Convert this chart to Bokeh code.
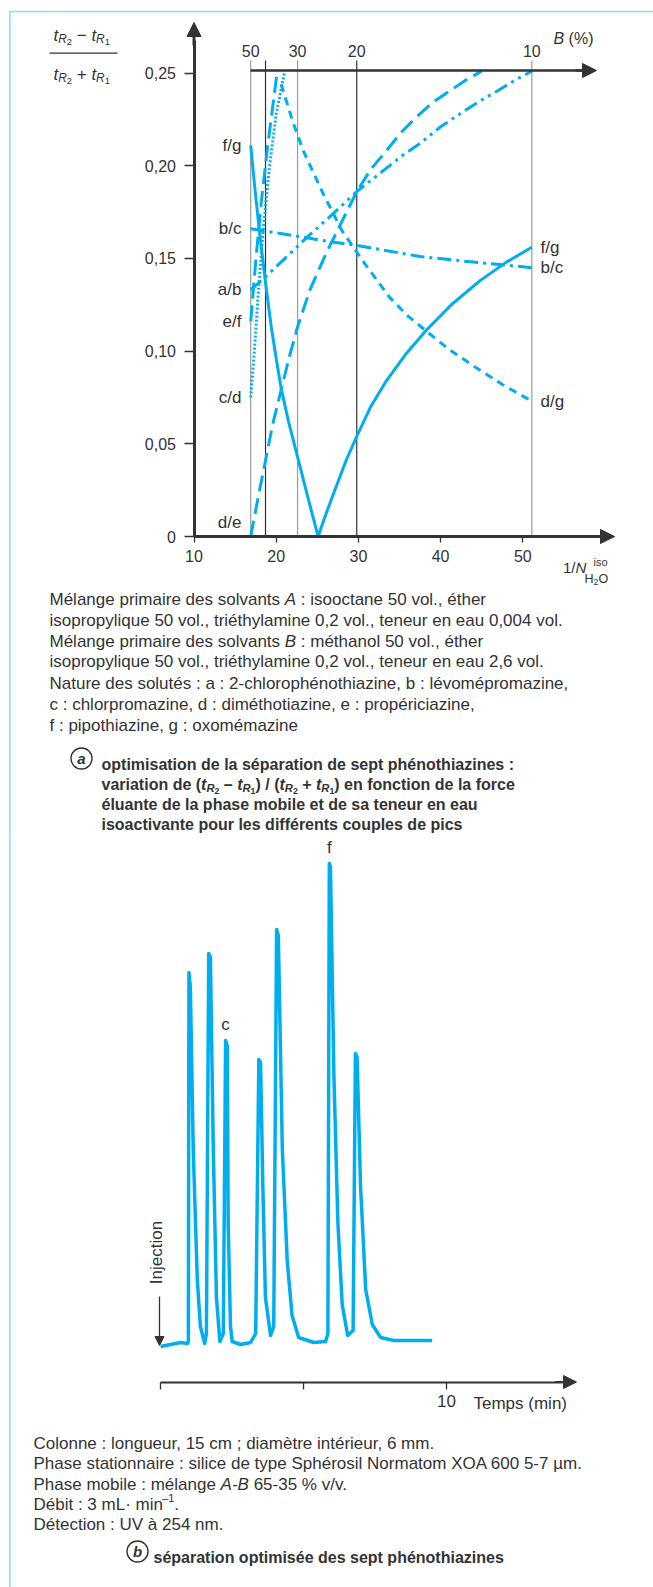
import math
from bokeh.plotting import figure
from bokeh.models import LinearAxis, FixedTicker, Range1d, Arrow, NormalHead
from bokeh.layouts import column
from bokeh.embed import file_html
from bokeh.resources import INLINE
from bokeh.core.properties import value

# ---------------------------------------------------------------- data (a)
# x = 1/N(H2O, iso), y = (tR2 - tR1)/(tR2 + tR1) for each pair of peaks
fg_x = [16.9, 17.4, 18.0, 18.7, 19.4, 20.0, 20.6, 21.5, 22.6, 23.8, 25.1, 26.0, 27.3, 28.5,
        29.8, 31.5, 33.4, 35.7, 38.2, 41.3, 44.8, 48.0, 51.1]
fg_y = [0.211, 0.188, 0.163, 0.137, 0.113, 0.096, 0.080, 0.062, 0.043, 0.022, 0.000, 0.0115,
        0.027, 0.041, 0.054, 0.070, 0.084, 0.098, 0.111, 0.125, 0.138, 0.148, 0.156]
bc_x = [16.9, 22.6, 26.5, 29.8, 37.5, 44.0, 51.1]
bc_y = [0.166, 0.162, 0.159, 0.157, 0.151, 0.148, 0.145]
ab_x = [16.9, 18.7, 21.3, 23.9, 26.9, 29.8, 31.5, 33.5, 35.5, 37.5, 40.0, 42.7, 44.8, 46.8,
        49.0, 51.1]
ab_y = [0.133, 0.140, 0.151, 0.162, 0.174, 0.186, 0.192, 0.199, 0.206, 0.212, 0.221, 0.229,
        0.235, 0.240, 0.246, 0.251]
de_x = [16.9, 17.8, 18.7, 19.6, 20.6, 21.6, 22.6, 24.1, 26.0, 28.0, 29.8, 31.5, 33.4, 35.2,
        37.0, 39.0, 41.0, 43.0, 45.0]
de_y = [0.000, 0.021, 0.041, 0.061, 0.079, 0.097, 0.113, 0.133, 0.152, 0.170, 0.186, 0.198,
        0.208, 0.218, 0.226, 0.234, 0.240, 0.246, 0.251]
ef_x = [16.9, 17.5, 18.2, 19.0, 20.1]
ef_y = [0.116, 0.148, 0.181, 0.212, 0.250]
cd_x = [16.9, 17.3, 17.8, 18.4, 19.2, 20.0, 21.0]
cd_y = [0.075, 0.097, 0.130, 0.165, 0.200, 0.228, 0.250]
dg_x = [20.6, 22.0, 23.3, 25.7, 28.0, 30.8, 33.8, 36.0, 38.2, 41.0, 44.0, 47.5, 51.1]
dg_y = [0.244, 0.224, 0.208, 0.185, 0.165, 0.147, 0.129, 0.119, 0.111, 0.101, 0.092, 0.082,
        0.073]

# B (%) scale drawn on top, at the matching 1/N positions
b_pct = [50, 35, 30, 20, 10]
b_pos = [16.9, 18.7, 22.6, 29.8, 51.1]
b_labelled = [50, 30, 20, 10]

y_ticks = [0, 0.05, 0.10, 0.15, 0.20, 0.25]
y_tick_labels = ["0", "0,05", "0,10", "0,15", "0,20", "0,25"]
x_ticks = [10, 20, 30, 40, 50]

# ---------------------------------------------------------------- data (b)
chrom_t = [0.02, 0.72, 0.96, 0.99, 1.01, 1.06, 1.16, 1.30, 1.41, 1.56, 1.62, 1.70, 1.76, 1.86,
           1.97, 2.09, 2.21, 2.29, 2.35, 2.38, 2.46, 2.52, 2.81, 3.16, 3.34, 3.45, 3.51, 3.59,
           3.68, 3.86, 3.97, 4.07, 4.13, 4.27, 4.44, 4.61, 4.84, 5.37, 5.78, 5.86, 5.91, 5.95,
           6.07, 6.21, 6.36, 6.55, 6.74, 6.82, 6.88, 7.00, 7.18, 7.41, 7.70, 8.16, 9.50]
chrom_s = [-5, -1, -2, 0, 369, 354, 192, 63, 15, -2, 8, 388, 384, 192,
           44, 0, 8, 301, 295, 118, 15, 0, -3, -1, 8, 282, 279, 155,
           44, 6, 15, 412, 406, 192, 81, 26, 4, -1, 0, 8, 478, 474,
           266, 118, 37, 6, 11, 288, 284, 155, 52, 17, 4, 1, 1]
peak_names = ["c", "f"]
peak_times = [2.29, 5.91]
time_ticks = [0, 5, 10]
time_tick_labels = ["", "", "10"]

# ---------------------------------------------------------------- styles
INK = "#333333"
BLUE = "#00AEEF"
FRAME = "#86E4EC"
GRAY = "#9a9a9a"
FONT = "Liberation Sans"
NBSP = "\u00a0"
W = 653
HA = 834
HB = 1587 - HA

W_REG, W_BOLD = {}, {}
def _set(tbl, chars, w):
    for c in chars:
        tbl[c] = w
_set(W_REG, "ijl", 0.222); _set(W_REG, "ftI !,./:;·", 0.278); _set(W_REG, "r()-", 0.333)
_set(W_REG, "cksvxyzJ", 0.5); _set(W_REG, "+−", 0.584); _set(W_REG, "FTZ", 0.611)
_set(W_REG, "ABEKPSVXY", 0.667); _set(W_REG, "CDHNRUw", 0.722); _set(W_REG, "GOQ", 0.778)
_set(W_REG, "Mm", 0.833); _set(W_REG, "%", 0.889); _set(W_REG, "W", 0.944)
_set(W_BOLD, "ijl !,./·", 0.278); _set(W_BOLD, "ft:;()-", 0.333); _set(W_BOLD, "r", 0.389)
_set(W_BOLD, "z", 0.5); _set(W_BOLD, "bdghnopqu", 0.611); _set(W_BOLD, "+−", 0.584)
_set(W_BOLD, "m", 0.889); _set(W_BOLD, "w", 0.778); _set(W_BOLD, "ABCDHKNRU", 0.722)


def tw(s, size, bold=False):
    tbl = W_BOLD if bold else W_REG
    return sum(tbl.get(c, 0.556) for c in s) * size


def keep_spaces(s):
    core = s.strip(" ")
    if not core:
        return NBSP * len(s)
    lead = len(s) - len(s.lstrip(" "))
    trail = len(s) - len(s.rstrip(" "))
    return NBSP * lead + core + NBSP * trail


def runs(fig, mx, my, x0, yc, pieces, size, color=INK):
    x = x0
    base = yc + 0.35 * size
    for text, style, rel, rise in pieces:
        sz = size * rel
        fig.text(x=[mx(x)], y=[my(base - rise)], text=[keep_spaces(text)], text_font=value(FONT),
                 text_font_size=f"{sz:.1f}px", text_font_style=style,
                 text_align="left", text_baseline="alphabetic", text_color=color)
        x += tw(text, sz, "bold" in style)


def label(fig, x, y, text, size, align="left", style="normal", angle=0.0, baseline="middle"):
    fig.text(x=[x], y=[y], text=[text], text_font=value(FONT), text_font_size=f"{size}px",
             text_font_style=style, text_align=align, text_baseline=baseline,
             text_color=INK, angle=angle)


def style_axis(axis, size, tick_out, standoff, lw):
    axis.axis_line_color = INK
    axis.axis_line_width = lw
    axis.major_tick_line_color = INK
    axis.major_tick_line_width = 1.3
    axis.major_tick_out = tick_out
    axis.major_tick_in = 0
    axis.minor_tick_out = 0
    axis.minor_tick_in = 0
    axis.major_label_text_font = FONT
    axis.major_label_text_font_size = f"{size}px"
    axis.major_label_text_color = INK
    axis.major_label_standoff = standoff


def arrow_head(fig, x0, y0, x1, y1, size, lw):
    fig.add_layout(Arrow(end=NormalHead(size=size, fill_color=INK, line_color=INK, line_width=1),
                         x_start=x0, y_start=y0, x_end=x1, y_end=y1,
                         line_color=INK, line_width=lw))


# ================================================================= panel (a)
def ax(px):
    return 10 + (px - 193.5) / 8.22


def ay(py):
    return (536.0 - py) / 1854.0


pa = figure(width=W, height=HA, x_range=Range1d(ax(0), ax(W)), y_range=Range1d(ay(HA), ay(0)),
            output_backend="svg", toolbar_location=None, x_axis_location=None,
            y_axis_location=None, min_border=0, outline_line_color=None,
            background_fill_color="white", border_fill_color="white")
pa.xgrid.visible = False
pa.ygrid.visible = False

# page frame
pa.line(x=[ax(9.3), ax(9.3), ax(W + 5)], y=[ay(HA + 5), ay(11), ay(11)],
        line_color=FRAME, line_width=1.6)

# vertical reference lines of the B scale
b_colors = [GRAY, INK, GRAY, INK, GRAY]
pa.segment(x0=b_pos, y0=[0] * len(b_pos), x1=b_pos, y1=[ay(60)] * len(b_pos),
           line_color=b_colors, line_width=1.2)

curves = [(fg_x, fg_y, "solid"), (bc_x, bc_y, "14 5 3 5"), (ab_x, ab_y, "14 5 3 5 3 5"),
          (de_x, de_y, "16 7"), (ef_x, ef_y, "16 7"), (cd_x, cd_y, "2 2"), (dg_x, dg_y, "8 6")]
for xs, ys, dash in curves:
    pa.line(x=xs, y=ys, line_color=BLUE, line_width=3, line_dash=dash, line_cap="butt",
            line_join="round")

# axes
yax = LinearAxis(fixed_location=10, bounds=(0, ay(40)),
                 ticker=FixedTicker(ticks=y_ticks),
                 major_label_overrides=dict(zip(y_ticks, y_tick_labels)))
style_axis(yax, 16, 10, 8, 3)
pa.add_layout(yax, "left")

xax = LinearAxis(fixed_location=0, bounds=(10, ax(600)), ticker=FixedTicker(ticks=x_ticks))
style_axis(xax, 16, 6, 7, 3)
pa.add_layout(xax, "below")

b_tick_pos = [p for p, v in zip(b_pos, b_pct) if v in b_labelled]
bax = LinearAxis(fixed_location=ay(70), bounds=(b_pos[0], ax(584)),
                 ticker=FixedTicker(ticks=b_tick_pos),
                 major_label_overrides={p: str(v) for p, v in zip(b_pos, b_pct) if v in b_labelled})
style_axis(bax, 16, 0, 14, 2.5)
pa.add_layout(bax, "above")

arrow_head(pa, 10, ay(45), 10, ay(22), 14, 3)
arrow_head(pa, ax(590), 0, ax(614), 0, 14, 3)
arrow_head(pa, ax(575), ay(70), ax(596), ay(70), 14, 2.5)

# pair labels at curve ends
left_names = ["f/g", "b/c", "a/b", "e/f", "c/d", "d/e"]
left_src = [fg_y, bc_y, ab_y, ef_y, cd_y, de_y]
left_shift = [0, 0, 0, 0, 0, 0.0078]
for name, ys, sh in zip(left_names, left_src, left_shift):
    label(pa, ax(241), ys[0] + sh, name, 17, align="right")
right_names = ["f/g", "b/c", "d/g"]
right_src = [fg_y, bc_y, dg_y]
for name, ys in zip(right_names, right_src):
    label(pa, ax(540), ys[-1], name, 17, align="left")

# y-axis title (fraction)
num = [("t", "italic", 1, 0), ("R", "italic", 0.7, -3.5), ("2", "normal", 0.55, -6),
       (" − ", "normal", 1, 0), ("t", "italic", 1, 0), ("R", "italic", 0.7, -3.5),
       ("1", "normal", 0.55, -6)]
den = [("t", "italic", 1, 0), ("R", "italic", 0.7, -3.5), ("2", "normal", 0.55, -6),
       (" + ", "normal", 1, 0), ("t", "italic", 1, 0), ("R", "italic", 0.7, -3.5),
       ("1", "normal", 0.55, -6)]
runs(pa, ax, ay, 53, 29.5, num, 17)
runs(pa, ax, ay, 53, 68.3, den, 17)
pa.line(x=[ax(49), ax(117)], y=[ay(52.7), ay(52.7)], line_color=INK, line_width=1.2)

# B (%) title
runs(pa, ax, ay, 553, 32.5, [("B", "italic", 1, 0), (" (%)", "normal", 1, 0)], 16)

# x-axis title 1/N_H2O^iso
runs(pa, ax, ay, 562.5, 562, [("1/", "normal", 1, 0), ("N", "italic", 1, 0)], 15)
runs(pa, ax, ay, 593, 557.5, [("iso", "normal", 1, 0)], 11)
runs(pa, ax, ay, 584, 574, [("H", "normal", 1, 0), ("2", "normal", 0.7, -3),
                            ("O", "normal", 1, 0)], 12.5)

# legend paragraph
para_a = [
    [("Mélange primaire des solvants ", "normal", 1, 0), ("A", "italic", 1, 0),
     (" : isooctane 50 vol., éther", "normal", 1, 0)],
    [("isopropylique 50 vol., triéthylamine 0,2 vol., teneur en eau 0,004 vol.", "normal", 1, 0)],
    [("Mélange primaire des solvants ", "normal", 1, 0), ("B", "italic", 1, 0),
     (" : méthanol 50 vol., éther", "normal", 1, 0)],
    [("isopropylique 50 vol., triéthylamine 0,2 vol., teneur en eau 2,6 vol.", "normal", 1, 0)],
    [("Nature des solutés : a : 2-chlorophénothiazine, b : lévomépromazine,", "normal", 1, 0)],
    [("c : chlorpromazine, d : diméthotiazine, e : propériciazine,", "normal", 1, 0)],
    [("f : pipothiazine, g : oxomémazine", "normal", 1, 0)],
]
para_a_y = [593, 614.5, 635, 655.5, 677, 698, 719]
for pieces, yc in zip(para_a, para_a_y):
    runs(pa, ax, ay, 49, yc, pieces, 17)

# caption (a)
pa.scatter(x=[ax(81)], y=[ay(758)], marker="circle", size=21, fill_color="white",
           line_color=INK, line_width=1.4)
label(pa, ax(81), ay(758), "a", 15, align="center", style="bold italic")
sub2 = [("t", "bold italic", 1, 0), ("R", "bold italic", 0.7, -3.5), ("2", "bold", 0.55, -6)]
sub1 = [("t", "bold italic", 1, 0), ("R", "bold italic", 0.7, -3.5), ("1", "bold", 0.55, -6)]
cap_a = [
    [("optimisation de la séparation de sept phénothiazines :", "bold", 1, 0)],
    [("variation de (", "bold", 1, 0)] + sub2 + [(" – ", "bold", 1, 0)] + sub1 +
    [(") / (", "bold", 1, 0)] + sub2 + [(" + ", "bold", 1, 0)] + sub1 +
    [(") en fonction de la force", "bold", 1, 0)],
    [("éluante de la phase mobile et de sa teneur en eau", "bold", 1, 0)],
    [("isoactivante pour les différents couples de pics", "bold", 1, 0)],
]
cap_a_y = [758, 778.5, 798.5, 818.5]
for pieces, yc in zip(cap_a, cap_a_y):
    runs(pa, ax, ay, 101, yc, pieces, 16)

# ================================================================= panel (b)
def bx(px):
    return (px - 159.5) / 28.65


def by(py):
    return 1341.0 - py


pb = figure(width=W, height=HB, x_range=Range1d(bx(0), bx(W)), y_range=Range1d(by(1587), by(HA)),
            output_backend="svg", toolbar_location=None, x_axis_location=None,
            y_axis_location=None, min_border=0, outline_line_color=None,
            background_fill_color="white", border_fill_color="white")
pb.xgrid.visible = False
pb.ygrid.visible = False

pb.line(x=[bx(9.3), bx(9.3)], y=[by(HA - 5), by(1595)], line_color=FRAME, line_width=1.6)

pb.line(x=chrom_t, y=chrom_s, line_color=BLUE, line_width=3.5, line_join="round")

for name, pt in zip(peak_names, peak_times):
    top = max(s for t, s in zip(chrom_t, chrom_s) if abs(t - pt) < 0.08)
    label(pb, pt, top + 16, name, 17, align="center")

tax = LinearAxis(fixed_location=by(1381.5), bounds=(0, bx(562)),
                 ticker=FixedTicker(ticks=time_ticks),
                 major_label_overrides=dict(zip(time_ticks, time_tick_labels)))
style_axis(tax, 17, 7, 6, 2)
pb.add_layout(tax, "below")
arrow_head(pb, bx(555), by(1381.5), bx(576), by(1381.5), 13, 2)
label(pb, bx(473), by(1403), "Temps (min)", 17, align="left")

# injection mark
label(pb, bx(156), by(1252), "Injection", 17, align="center", angle=math.pi / 2)
arrow_head(pb, bx(159), by(1296), bx(159), by(1345), 9, 1.3)

para_b = [
    [("Colonne : longueur, 15 cm ; diamètre intérieur, 6 mm.", "normal", 1, 0)],
    [("Phase stationnaire : silice de type Sphérosil Normatom XOA 600 5-7 µm.", "normal", 1, 0)],
    [("Phase mobile : mélange ", "normal", 1, 0), ("A-B", "italic", 1, 0),
     (" 65-35 % v/v.", "normal", 1, 0)],
    [("Débit : 3 mL· min", "normal", 1, 0), ("–1", "normal", 0.65, 6), (".", "normal", 1, 0)],
    [("Détection : UV à 254 nm.", "normal", 1, 0)],
]
para_b_y = [1437, 1457.5, 1478, 1498, 1518]
for pieces, yc in zip(para_b, para_b_y):
    runs(pb, bx, by, 33, yc, pieces, 17)

pb.scatter(x=[bx(137)], y=[by(1551)], marker="circle", size=21, fill_color="white",
           line_color=INK, line_width=1.4)
label(pb, bx(137), by(1551), "b", 15, align="center", style="bold italic")
runs(pb, bx, by, 153, 1551, [("séparation optimisée des sept phénothiazines", "bold", 1, 0)], 16)

layout = column(pa, pb, spacing=0)
open("out.html", "w").write(file_html(layout, INLINE, title="phenothiazines"))
